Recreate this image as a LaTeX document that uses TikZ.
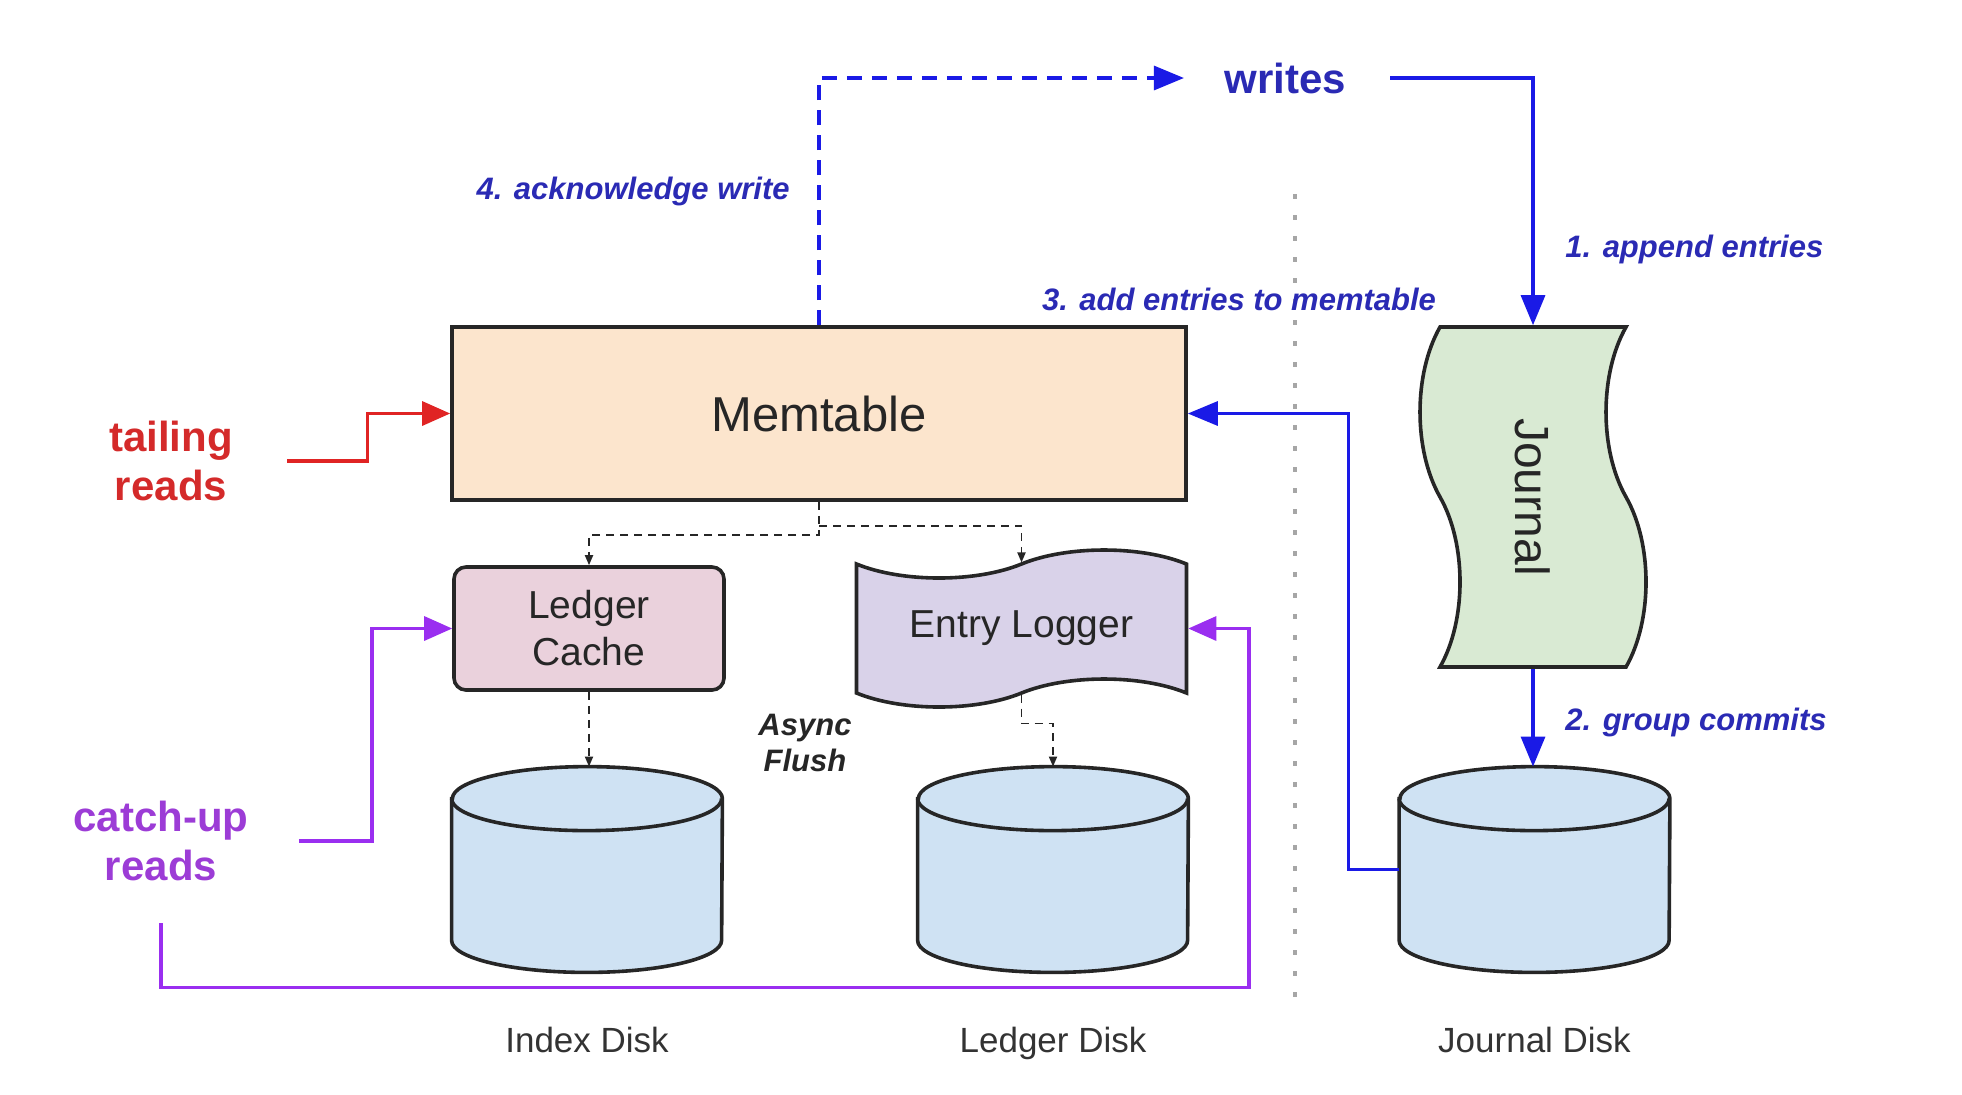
\documentclass[tikz,border=0pt]{standalone}
\usepackage{fontspec}
\setmainfont{Liberation Sans}
\usepackage{xcolor}
\definecolor{memfill}{HTML}{FCE5CD}
\definecolor{cachefill}{HTML}{EAD1DC}
\definecolor{logfill}{HTML}{D9D2E9}
\definecolor{jrnlfill}{HTML}{D9EAD3}
\definecolor{diskfill}{HTML}{CFE2F3}
\definecolor{wblue}{HTML}{1A1AE6}
\definecolor{tblue}{HTML}{2A2AB4}
\definecolor{rred}{HTML}{E02424}
\definecolor{tred}{HTML}{D42A2A}
\definecolor{ppurple}{HTML}{9A2EF0}
\definecolor{tpurple}{HTML}{9C3CD6}
\usetikzlibrary{positioning, arrows.meta, shapes.symbols}

\begin{document}
\begin{tikzpicture}[
  x=0.5pt, y=-0.5pt,
  part/.style={draw=black!85, line width=1.8pt, align=center, text=black!85,
               font=\fontsize{19.5}{23.5}\selectfont},
  disk/.style={inner sep=0pt, minimum width=135pt, minimum height=102.5pt},
  diskline/.style={draw=black!85, line width=1.8pt, fill=diskfill},
  dname/.style={font=\fontsize{17.5}{21}\selectfont, text=black!80, inner sep=0pt},
  note/.style={font=\fontsize{15.5}{18}\selectfont\bfseries\itshape, text=tblue, inner sep=0pt},
  readtxt/.style={font=\fontsize{21}{24.5}\selectfont\bfseries, align=center, inner sep=0pt},
  wline/.style={-{Triangle[length=15pt,width=12pt]}, wblue, line width=1.6pt},
  ackline/.style={wline, dash pattern=on 7.5pt off 5pt},
  rdline/.style={-{Triangle[length=14pt,width=12pt]}, rred, line width=1.6pt},
  puline/.style={-{Triangle[length=14pt,width=12pt]}, ppurple, line width=1.6pt},
  flush/.style={-{Triangle[length=5pt,width=4pt]}, black!85, line width=0.9pt,
                dash pattern=on 4pt off 3pt},
  divider/.style={black!35, line width=1.6pt, dash pattern=on 2.5pt off 8pt}
]
  \useasboundingbox (0,0) rectangle (1962,1094);

  % components
  \node[part, fill=memfill, minimum width=367pt, minimum height=86.5pt,
        font=\fontsize{24.5}{28}\selectfont] (mem) at (819,413.5) {Memtable};
  \node[part, fill=cachefill, rounded corners=6pt, minimum width=135pt,
        minimum height=61.5pt] (lc) at (589,628.5) {Ledger\\Cache};
  \node[part, tape, fill=logfill, minimum width=165pt, minimum height=78.5pt,
        tape bend height=14pt] (el) at (1021.5,628.5) {Entry Logger};
  \node[part, tape, rotate=-90, fill=jrnlfill, minimum width=170pt, minimum height=113pt,
        tape bend height=20pt, font=\fontsize{24}{28}\selectfont] (jrnl) at (1533,497) {Journal};

  % disks
  \node[disk] (idisk) at (587,869.5) {};
  \node[disk] (ldisk) at (1053,869.5) {};
  \node[disk] (jdisk) at (1534.5,869.5) {};
  \foreach \d in {idisk,ldisk,jdisk}{
    \path[diskline] ([yshift=-16pt]\d.north west) -- ([yshift=16pt]\d.south west)
      arc[start angle=180, end angle=360, x radius=67.5pt, y radius=16pt]
      -- ([yshift=-16pt]\d.north east)
      arc[start angle=0, end angle=180, x radius=67.5pt, y radius=16pt] -- cycle;
    \draw[diskline, fill=none] ([yshift=-16pt]\d.north west)
      arc[start angle=180, end angle=360, x radius=67.5pt, y radius=16pt];
  }
  \node[dname, below=27pt of idisk] (iname) {Index Disk};
  \node[dname, below=27pt of ldisk] (lname) {Ledger Disk};
  \node[dname, below=27pt of jdisk] (jname) {Journal Disk};

  \draw[divider] (1295,194) -- (1295,1001);

  % write path
  \node[font=\fontsize{21}{24}\selectfont\bfseries, text=tblue, inner sep=0pt]
        (writes) at (1285,78) {writes};
  \draw[wline] ([xshift=22pt]writes.east) -| (jrnl.west);
  \draw[wline] (jrnl.east) -- (jrnl.east |- jdisk.north);
  \draw[wline] (jdisk.west) -- ++(-51,0) |- (mem.east);
  \draw[ackline] (mem.north) |- ([xshift=-20pt]writes.west);

  \node[note, anchor=east] (acknote) at (790,191) {4. acknowledge write};
  \node[note] (addnote) at (1239,299) {3. add entries to memtable};
  \node[note, anchor=west] (appnote) at (1565,249) {1. append entries};
  \node[note, anchor=west] (grpnote) at (1565,722) {2. group commits};

  % flushes
  \coordinate (split) at ([yshift=-16.5pt]mem.south);
  \draw[flush] (mem.south) -- (split) -| (lc.north);
  \draw[flush] ([yshift=-12pt]mem.south) -| (el.north);
  \draw[flush] (lc.south) -- (lc.south |- idisk.north);
  \draw[flush] (el.south) -- ++(0,29) -| (ldisk.north);
  \node[note, text=black!85, align=center] (async) at (805,743) {Async\\Flush};

  % reads
  \node[readtxt, text=tred] (tail) at (171,461) {tailing\\reads};
  \node[readtxt, text=tpurple] (catch) at (161,841) {catch-up\\reads};
  \draw[rdline] ([xshift=27pt]tail.east) -- ++(80,0) |- (mem.west);
  \draw[puline] ([xshift=25pt]catch.east) -- ++(73,0) |- (lc.west);
  \draw[puline] ([yshift=-21pt]catch.south) |- ++(1088,64) |- (el.east);
\end{tikzpicture}
\end{document}
